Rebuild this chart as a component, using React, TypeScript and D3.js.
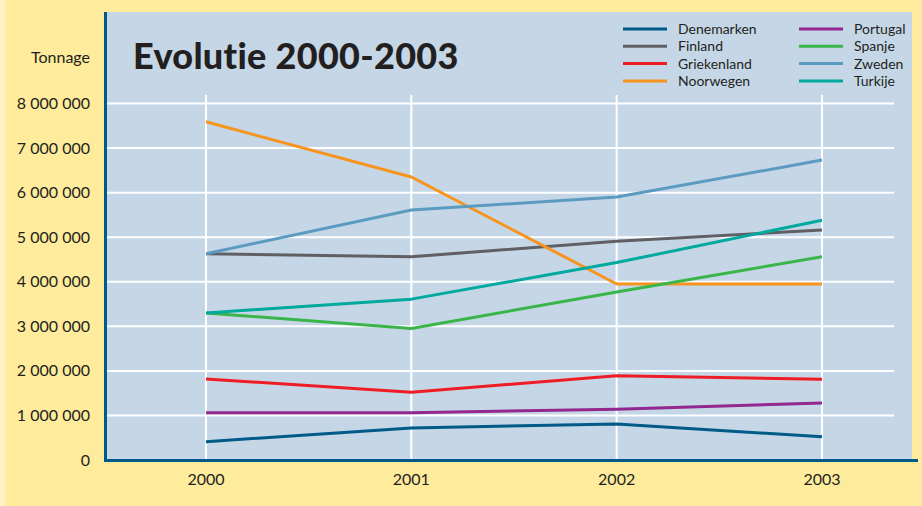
import * as d3 from "d3"

// years on the x axis
const years = ["2000", "2001", "2002", "2003"]

// tonnage per country
const denemarken = [410000, 720000, 810000, 520000]
const finland = [4630000, 4560000, 4910000, 5160000]
const griekenland = [1820000, 1520000, 1890000, 1810000]
const noorwegen = [7590000, 6350000, 3950000, 3950000]
const portugal = [1060000, 1060000, 1140000, 1280000]
const spanje = [3300000, 2950000, 3770000, 4560000]
const zweden = [4630000, 5610000, 5900000, 6730000]
const turkije = [3300000, 3610000, 4430000, 5380000]

const yTicks = [0, 1000000, 2000000, 3000000, 4000000, 5000000, 6000000, 7000000, 8000000]

const series = [
  { name: "Denemarken", values: denemarken, color: "#005a87" },
  { name: "Finland", values: finland, color: "#606064" },
  { name: "Griekenland", values: griekenland, color: "#ee1c25" },
  { name: "Noorwegen", values: noorwegen, color: "#f7941d" },
  { name: "Portugal", values: portugal, color: "#92278f" },
  { name: "Spanje", values: spanje, color: "#39b54a" },
  { name: "Zweden", values: zweden, color: "#5b9bc1" },
  { name: "Turkije", values: turkije, color: "#00a99d" },
]

const W = 922
const H = 506
const font = "Lato, 'Open Sans', sans-serif"
const noLig = { fontVariantLigatures: "none" as const, letterSpacing: "0.3px" }

export default function App() {
  const left = 104
  const top = 12
  const right = 912
  const bottom = 460

  const x = d3.scalePoint<string>().domain(years).range([206, 822])
  const y = d3.scaleLinear().domain([0, 8000000]).range([bottom, 103.5])

  const line = d3
    .line<number>()
    .x((_, i) => x(years[i]) as number)
    .y((d) => y(d))

  const fmt = (v: number) => d3.format(",")(v).replace(/,/g, " ")

  return (
    <div style={{ position: "absolute", left: 0, top: 0 }}>
      <svg width={W} height={H} style={{ display: "block" }}>
        <rect width={W} height={H} fill="#feeb9b" />
        <rect width={5} height={H} fill="#fff2c4" />
        <rect x={left} y={top} width={right - left} height={bottom - top} fill="#c5d7e7" />

        {/* grid */}
        {yTicks.slice(1).map((t) => (
          <line key={t} x1={left + 3} x2={894} y1={y(t)} y2={y(t)} stroke="#fff" strokeWidth={2} />
        ))}
        {years.map((yr) => (
          <line key={yr} x1={x(yr)} x2={x(yr)} y1={95} y2={bottom} stroke="#fff" strokeWidth={2} />
        ))}

        {/* axes */}
        <line x1={left + 1.5} x2={left + 1.5} y1={top} y2={bottom + 2} stroke="#005a87" strokeWidth={3} />
        <line x1={left} x2={918} y1={bottom + 0.5} y2={bottom + 0.5} stroke="#005a87" strokeWidth={3} />

        {/* data lines */}
        {series.map((s) => (
          <path
            key={s.name}
            d={line(s.values) ?? ""}
            fill="none"
            stroke={s.color}
            strokeWidth={3}
            strokeLinejoin="round"
          />
        ))}

        {/* y tick labels */}
        {yTicks.map((t) => (
          <text
            key={t}
            x={90}
            y={y(t)}
            dy="0.35em"
            textAnchor="end"
            fontFamily={font}
            fontSize={16}
            fill="#231f20"
          >
            {fmt(t)}
          </text>
        ))}
        <text x={90} y={57} dy="0.35em" textAnchor="end" fontFamily={font} fontSize={16} fill="#231f20">
          Tonnage
        </text>

        {/* x tick labels */}
        {years.map((yr) => (
          <text
            key={yr}
            x={x(yr)}
            y={479}
            dy="0.35em"
            textAnchor="middle"
            fontFamily={font}
            fontSize={16}
            fill="#231f20"
          >
            {yr}
          </text>
        ))}

        {/* title */}
        <text x={133} y={69} fontFamily={font} fontWeight={900} fontSize={36} fill="#231f20" style={noLig}>
          Evolutie 2000-2003
        </text>

        {/* legend */}
        {series.map((s, i) => {
          const col = Math.floor(i / 4)
          const row = i % 4
          const lx = col === 0 ? 623 : 799
          const ly = 29 + row * 17.3
          return (
            <g key={s.name} transform={`translate(${lx},${ly})`}>
              <line x1={0} x2={44} y1={0} y2={0} stroke={s.color} strokeWidth={3} />
              <text x={55} y={0} dy="0.35em" fontFamily={font} fontSize={14} fill="#231f20">
                {s.name}
              </text>
            </g>
          )
        })}
      </svg>
    </div>
  )
}
